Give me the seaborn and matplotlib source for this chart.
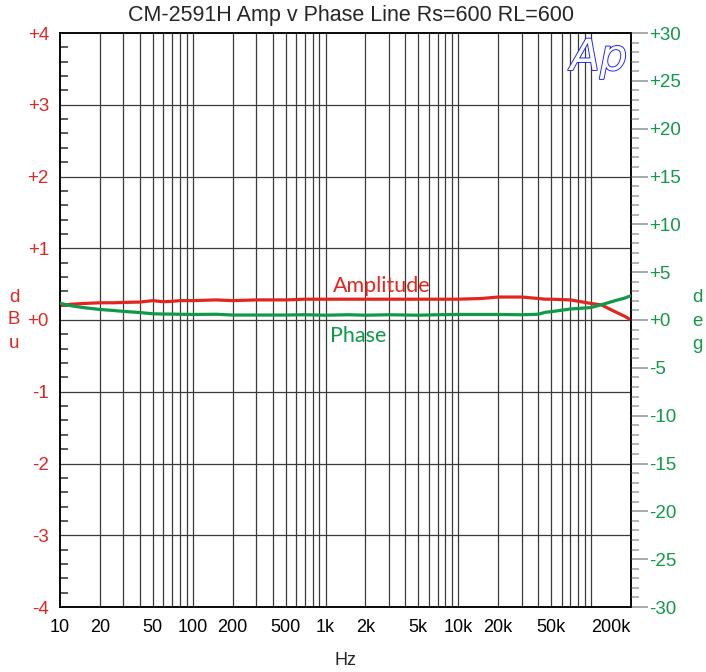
import numpy as np
import pandas as pd
import matplotlib
matplotlib.use("Agg")
import matplotlib.pyplot as plt
import matplotlib.ticker as mticker
import matplotlib.patheffects as pe
import seaborn as sns

# Frequency points of the sweep (Hz)
freq_hz = [10, 12, 15, 20, 25, 30, 40, 50, 60, 70, 80, 100, 150, 200, 300, 500,
           700, 1000, 1500, 2000, 3000, 5000, 7000, 10000, 15000, 20000, 30000,
           40000, 45000, 50000, 70000, 100000, 120000, 150000, 180000, 200000]
# Amplitude response (dBu)
amplitude_dbu = [0.20, 0.22, 0.23, 0.24, 0.24, 0.245, 0.25, 0.27, 0.255, 0.26, 0.27,
                 0.27, 0.28, 0.27, 0.28, 0.28, 0.29, 0.29, 0.29, 0.29, 0.29, 0.29,
                 0.29, 0.29, 0.30, 0.32, 0.32, 0.30, 0.29, 0.29, 0.28, 0.23, 0.21,
                 0.12, 0.05, 0.00]
# Phase response (deg)
phase_deg = [1.75, 1.5, 1.3, 1.1, 1.0, 0.9, 0.78, 0.65, 0.62, 0.62, 0.6, 0.58, 0.6,
             0.52, 0.52, 0.52, 0.55, 0.5, 0.55, 0.5, 0.55, 0.5, 0.55, 0.58, 0.58,
             0.58, 0.55, 0.6, 0.8, 0.87, 1.15, 1.3, 1.6, 2.0, 2.3, 2.55]

x_tick_values = [10, 20, 50, 100, 200, 500, 1000, 2000, 5000, 10000, 20000, 50000, 200000]
x_tick_labels = ["10", "20", "50", "100", "200", "500", "1k", "2k", "5k", "10k",
                 "20k", "50k", "200k"]
dbu_ticks = [-4, -3, -2, -1, 0, 1, 2, 3, 4]
deg_ticks = [-30, -25, -20, -15, -10, -5, 0, 5, 10, 15, 20, 25, 30]

RED = "#e2261f"
GREEN = "#109a48"
BLUE = "#1a1aff"

df = pd.DataFrame({"freq": freq_hz, "amp": amplitude_dbu, "phase": phase_deg})

sns.set_style("white")
plt.rcParams["font.family"] = ["Liberation Sans", "DejaVu Sans"]

fig = plt.figure(figsize=(7.06, 6.72), dpi=100)
ax = fig.add_axes([60 / 706, 1 - 607 / 672, 571 / 706, 574 / 672])
ax2 = ax.twinx()

# grid: every decade subdivision vertically, every dBu horizontally
ax.set_xscale("log")
ax.set_xlim(10, 200000)
ax.set_ylim(-4, 4)
for dec in [10, 100, 1000, 10000, 100000]:
    for m in range(1, 10):
        f = dec * m
        if 10 < f < 200000:
            ax.axvline(f, color="#3a3a3a", lw=0.9, zorder=1)
for v in dbu_ticks[1:-1]:
    ax.axhline(v, color="#3a3a3a", lw=0.9, zorder=1)

sns.lineplot(data=df, x="freq", y="amp", ax=ax, color=RED, lw=2.3, zorder=4)
sns.lineplot(data=df, x="freq", y="phase", ax=ax2, color=GREEN, lw=2.3, zorder=3)
ax2.set_ylim(-30, 30)

# x axis
ax.xaxis.set_major_locator(mticker.NullLocator())
ax.xaxis.set_minor_locator(mticker.NullLocator())
ax.set_xticks(x_tick_values)
ax.set_xticklabels(x_tick_labels)
ax.tick_params(axis="x", which="both", length=0, pad=9, labelsize=13, colors="black")
ax.get_xticklabels()[-1].set_horizontalalignment("right")
ax.set_xlabel("Hz", fontsize=13, labelpad=11)

# left axis (dBu)
ax.yaxis.set_ticks_position("left")
ax.set_yticks(dbu_ticks)
ax.set_yticklabels([f"+{v}" if v >= 0 else f"{v}" for v in dbu_ticks])
ax.yaxis.set_minor_locator(mticker.FixedLocator(
    [v + d for v in dbu_ticks[:-1] for d in (0.2, 0.4, 0.6, 0.8)]))
ax.tick_params(axis="y", which="major", length=0, pad=8, labelsize=13.5, labelcolor=RED)
ax.tick_params(axis="y", which="minor", direction="in", length=6, width=1.2,
               color="#404040")
ax.set_ylabel("")

# right axis (deg)
ax2.yaxis.set_ticks_position("right")
ax2.set_yticks(deg_ticks)
ax2.set_yticklabels([f"+{v}" if v >= 0 else f"{v}" for v in deg_ticks])
ax2.yaxis.set_minor_locator(mticker.MultipleLocator(1))
ax2.tick_params(axis="y", which="major", direction="out", length=12, width=1.4,
                color="#a8a8a8", pad=1, labelsize=13.5, labelcolor=GREEN)
ax2.tick_params(axis="y", which="minor", direction="out", length=6, width=1.4,
                color="#b4b4b4")
ax2.set_ylabel("")

for a in (ax, ax2):
    for s in a.spines.values():
        s.set_color("black")
        s.set_linewidth(1.1)

# axis unit labels written letter by letter
for ch, yp in zip("dBu", [298, 320, 343]):
    fig.text(14 / 706, 1 - yp / 672, ch, color=RED, fontsize=13.5, ha="center", va="center")
for ch, yp in zip("deg", [298, 321, 345]):
    fig.text(697 / 706, 1 - yp / 672, ch, color=GREEN, fontsize=13.5, ha="center", va="center")

# curve labels
ax.text(2650, 0.47, "Amplitude", color=RED, fontsize=15.5, ha="center", va="center",
        family=["Lato", "DejaVu Sans"], zorder=6)
ax.text(1750, -0.22, "Phase", color=GREEN, fontsize=15.5, ha="center", va="center",
        family=["Lato", "DejaVu Sans"], zorder=6)

# title
fig.text(351 / 706, 1 - 15 / 672, "CM-2591H Amp v Phase Line Rs=600 RL=600",
         fontsize=15.5, ha="center", va="center")

# logo
ax.text(0.993, 0.993, "Ap", transform=ax.transAxes, fontsize=31, fontstyle="italic",
        family=["DejaVu Sans"], ha="right", va="top", color="white", zorder=7,
        path_effects=[pe.withStroke(linewidth=1.3, foreground=BLUE)])

fig.savefig("out.png", dpi=100)
